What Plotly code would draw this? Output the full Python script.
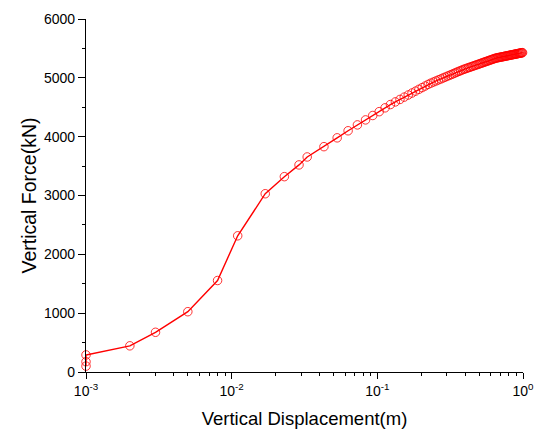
import plotly.graph_objects as go

# Vertical displacement (m)
displacement = [
    0.001, 0.001, 0.001, 0.002, 0.003, 0.005, 0.008, 0.011, 0.017, 0.023, 0.029,
    0.033, 0.043, 0.053, 0.063, 0.073, 0.083, 0.093, 0.103, 0.113, 0.123,
    0.133, 0.143, 0.153, 0.163, 0.173, 0.183, 0.193, 0.203, 0.213, 0.223,
    0.233, 0.243, 0.253, 0.263, 0.273, 0.283, 0.293, 0.303, 0.313, 0.323,
    0.333, 0.343, 0.353, 0.363, 0.373, 0.383, 0.393, 0.403, 0.413, 0.423,
    0.433, 0.443, 0.453, 0.463, 0.473, 0.483, 0.493, 0.503, 0.513, 0.523,
    0.533, 0.543, 0.553, 0.563, 0.573, 0.583, 0.593, 0.603, 0.613, 0.623,
    0.633, 0.643, 0.653, 0.663, 0.673, 0.683, 0.693, 0.703, 0.713, 0.723,
    0.733, 0.743, 0.753, 0.763, 0.773, 0.783, 0.793, 0.803, 0.813, 0.823,
    0.833, 0.843, 0.853, 0.863, 0.873, 0.883, 0.893, 0.903, 0.913, 0.923,
    0.933, 0.943, 0.953, 0.963, 0.973, 0.983, 0.993,
]

# Vertical force (kN)
force = [
    100, 175, 290, 445, 675, 1025, 1555, 2315, 3030, 3320, 3520,
    3655, 3830, 3980, 4100, 4200, 4285, 4360, 4425, 4490, 4546,
    4591, 4633, 4672, 4708, 4742, 4774, 4805, 4834, 4861, 4888,
    4910, 4929, 4947, 4965, 4981, 4998, 5013, 5029, 5043, 5057,
    5071, 5085, 5098, 5110, 5122, 5134, 5145, 5154, 5164, 5173,
    5181, 5190, 5198, 5207, 5215, 5223, 5230, 5238, 5245, 5253,
    5260, 5267, 5274, 5281, 5287, 5294, 5300, 5307, 5313, 5319,
    5325, 5331, 5336, 5339, 5343, 5346, 5349, 5352, 5355, 5358,
    5361, 5364, 5367, 5370, 5373, 5376, 5379, 5381, 5384, 5387,
    5390, 5392, 5395, 5397, 5400, 5402, 5405, 5407, 5410, 5412,
    5415, 5417, 5419, 5421, 5424, 5426, 5428,
]

x_tick_vals = [0.001, 0.01, 0.1, 1]
x_tick_text = ["10<sup>-3</sup>", "10<sup>-2</sup>", "10<sup>-1</sup>", "10<sup>0</sup>"]
x_minor_vals = [0.002, 0.003, 0.004, 0.005, 0.006, 0.007, 0.008, 0.009,
                0.02, 0.03, 0.04, 0.05, 0.06, 0.07, 0.08, 0.09,
                0.2, 0.3, 0.4, 0.5, 0.6, 0.7, 0.8, 0.9]
y_tick_vals = [0, 1000, 2000, 3000, 4000, 5000, 6000]

FONT = "Arial, Liberation Sans, sans-serif"

fig = go.Figure()
fig.add_trace(go.Scatter(
    x=displacement, y=force, mode="lines+markers",
    line=dict(color="#FF0000", width=1.4),
    marker=dict(symbol="circle-open", size=8.5, color="#FF0000",
                line=dict(width=0.8, color="#FF0000")),
    cliponaxis=False, showlegend=False,
))

fig.update_layout(
    width=541, height=429, autosize=False,
    margin=dict(l=86, r=18, t=19, b=57),
    paper_bgcolor="white", plot_bgcolor="white",
    font=dict(family=FONT, color="black", size=14),
)

fig.update_xaxes(
    type="log", range=[-3, 0], automargin=False,
    tickmode="array", tickvals=x_tick_vals, ticktext=x_tick_text,
    ticks="outside", ticklen=6, tickwidth=1.2, tickcolor="black",
    minor=dict(tickmode="array", tickvals=x_minor_vals, ticks="outside",
               ticklen=3, tickwidth=1.2, tickcolor="black", showgrid=False),
    showline=True, linecolor="black", linewidth=1.3,
    showgrid=False, zeroline=False,
    tickfont=dict(size=14),
    title=dict(text="Vertical Displacement(m)", font=dict(size=18.5), standoff=14),
)
fig.update_yaxes(
    range=[0, 6000], automargin=False,
    tickmode="array", tickvals=y_tick_vals,
    ticks="outside", ticklen=7, tickwidth=1.2, tickcolor="black",
    minor=dict(dtick=500, ticks="outside", ticklen=3, tickwidth=1.2,
               tickcolor="black", showgrid=False),
    showline=True, linecolor="black", linewidth=1.3,
    showgrid=False, zeroline=False,
    tickfont=dict(size=14),
    title=dict(text="Vertical Force(kN)", font=dict(size=19.5), standoff=2),
)

fig.write_html("out.html")
